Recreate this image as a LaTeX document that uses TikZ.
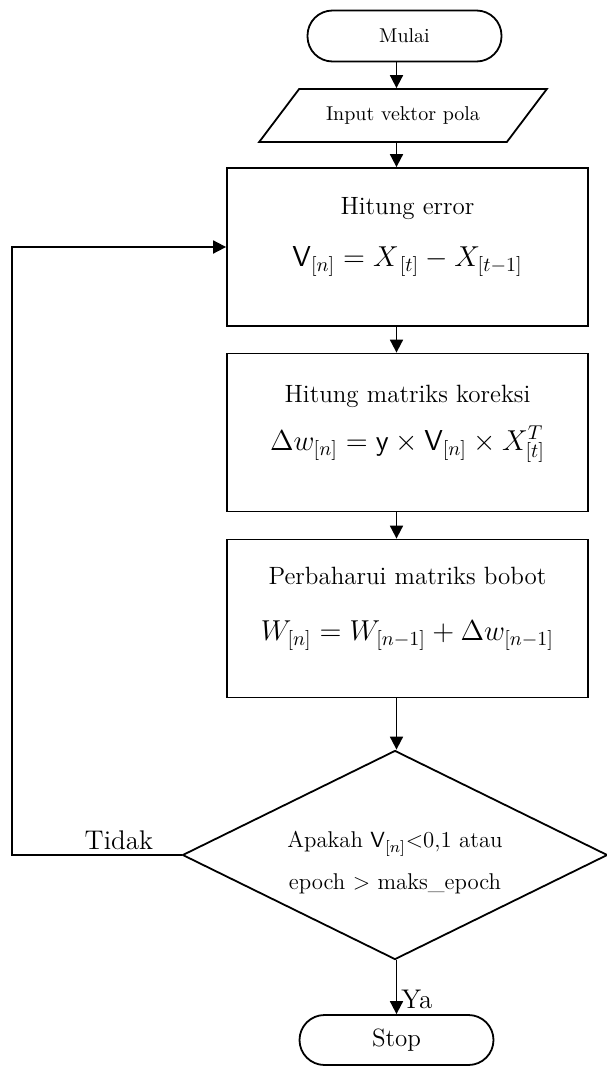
\documentclass[tikz,border=0pt]{standalone}
\usepackage{tikz}
\usetikzlibrary{shapes.geometric, arrows.meta}
\newcommand{\eqsize}{\fontsize{13.8}{16}\selectfont}
\tikzset{
terminal/.style={
       rectangle,
       rounded corners=12.5pt,
       draw=black, line width=0.9pt,
       minimum width=97pt,
       minimum height=25.5pt,
       font=\fontsize{10}{12}\selectfont,
       },
inout/.style={
       trapezium,
       trapezium left angle=44, trapezium right angle=136,
       trapezium stretches=true,
       draw=black, line width=0.9pt,
       minimum width=144pt,
       minimum height=26.5pt,
       font=\fontsize{10}{12}\selectfont,
       },
process/.style={
       rectangle,
       draw=black, line width=0.9pt,
       minimum width=180.5pt,
       minimum height=79pt,
       align=center,
       font=\fontsize{12.5}{15}\selectfont,
       },
decision/.style={
       diamond, aspect=2,
       draw=black, line width=0.9pt,
       minimum width=212.5pt,
       minimum height=104.5pt,
       inner sep=0pt,
       align=center,
       font=\fontsize{11.4}{21}\selectfont,
       },
flow/.style={-{Triangle[length=6.5pt,width=6.5pt]}, line width=0.9pt},
answer/.style={font=\fontsize{13.5}{16}\selectfont, inner sep=2pt},
}

\begin{document}
\begin{tikzpicture}[x=0.5pt, y=-0.5pt]
    \useasboundingbox (0,0) rectangle (606,1066);
    \node [terminal] (mulai) at (404.5,36) {Mulai};
    \node [inout] (input) at (403,115.5) {Input vektor pola};
    \node [process] (error) at (407.5,247) {
            Hitung error\\[11pt]
            {\eqsize $\mathsf{V}_{[n]} = X_{\,[t]} - X_{[t-1]}$}\\ \mbox{}
        };
    \node [process] (koreksi) at (407.5,432.5) {
            Hitung matriks koreksi\\[9pt]
            {\eqsize $\Delta w_{[n]} = \mathsf{y} \times \mathsf{V}_{[n]} \times X^{T}_{[t]}$}\\ \mbox{}
        };
    \node [process] (bobot) at (407.5,618.5) {
            Perbaharui matriks bobot\\[13pt]
            {\eqsize $W_{[n]} = W_{[n-1]} + \Delta w_{[n-1]}$}\\ \mbox{}
        };
    \node [decision] (cek) at (395,855) {
            \rule{0pt}{16pt}Apakah $\mathsf{V}_{[n]}$<0,1 atau\\
            epoch > maks\_epoch
        };
    \node [terminal, minimum height=25pt, font=\fontsize{12.5}{15}\selectfont] (stop) at (396.5,1040) {Stop};
    \coordinate (back) at (12,855);

    % Draw arrows down the main flow
    \foreach \a/\b in {mulai/input, input/error, error/koreksi, koreksi/bobot, bobot/cek} {
        \draw[flow] (\a.south -| stop.north) -- (\b.north -| stop.north);
    }
    \draw[flow] (cek.south -| stop.north) -- node[answer, right, pos=0.72] {Ya} (stop.north);
    \draw[flow] (cek.west) -- node[answer, above, pos=0.37] {Tidak} (back) |- (error.west);
\end{tikzpicture}
\end{document}
